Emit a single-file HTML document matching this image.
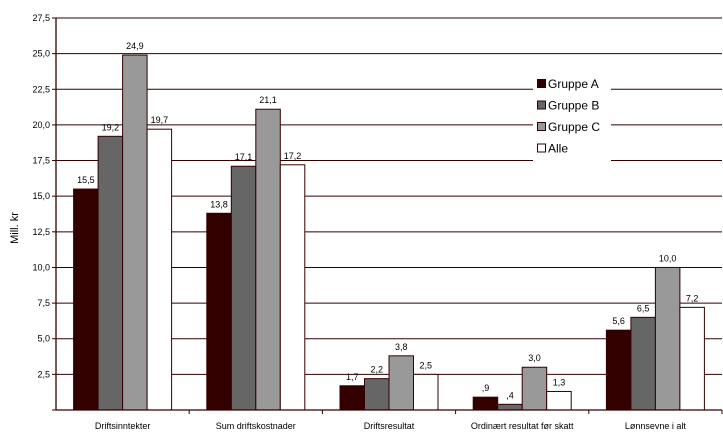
<!DOCTYPE html>
<html><head><meta charset="utf-8"><style>
body{margin:0;background:#fff}
svg{display:block;font-family:"Liberation Sans",sans-serif}
</style></head><body>
<svg id="c" width="723" height="446"></svg>
<script>
const categories=["Driftsinntekter","Sum driftskostnader","Driftsresultat","Ordinært resultat før skatt","Lønnsevne i alt"];
const seriesNames=["Gruppe A","Gruppe B","Gruppe C","Alle"];
const gruppeA=[15.5,13.8,1.7,0.9,5.6];
const gruppeB=[19.2,17.1,2.2,0.4,6.5];
const gruppeC=[24.9,21.1,3.8,3.0,10.0];
const alle=[19.7,17.2,2.5,1.3,7.2];
const yTicks=[0,2.5,5,7.5,10,12.5,15,17.5,20,22.5,25,27.5];
const series=[gruppeA,gruppeB,gruppeC,alle];
const colors=["#330000","#666666","#999999","#ffffff"];
const NS="http://www.w3.org/2000/svg";
const svg=document.getElementById('c');
const x0=56,x1=722,yTop=18,yBot=410,yMax=27.5;
const y=v=>yBot-v/yMax*(yBot-yTop);
const catW=(x1-x0)/categories.length;
const barW=24.5;
function mk(t,a,p){const e=document.createElementNS(NS,t);for(const k in a)e.setAttribute(k,a[k]);(p||svg).appendChild(e);return e;}
const fmt=v=>{let s=v.toFixed(1).replace('.',',');if(s.startsWith('0,'))s=s.slice(1);return s;};
yTicks.forEach(t=>{
  if(t>0){const g=mk('line',{x1:x0,x2:x1,y1:y(t),y2:y(t),stroke:'#330000','stroke-width':1});
  
  }
  const tk=mk('line',{x1:x0-4,x2:x0,y1:y(t),y2:y(t),stroke:'#330000'});
  
  
  if(t>0){const l=mk('text',{x:x0-6,y:y(t)+3,'text-anchor':'end','font-size':9,fill:'#000'});l.textContent=t.toFixed(1).replace('.',',');
  
  }
});
categories.forEach((c,i)=>{
  const cx=x0+catW*i;
  const tk=mk('line',{x1:cx+catW,x2:cx+catW,y1:yBot,y2:yBot+4,stroke:'#330000'});
  
  
  const start=cx+catW/2-barW*2;
  series.forEach((s,j)=>{
    const v=s[i];
    const r=mk('rect',{x:start+j*barW,y:y(v),width:barW,height:yBot-y(v),fill:colors[j],stroke:'#330000','stroke-width':1});
    
    
    const t=mk('text',{x:start+j*barW+barW/2,y:y(v)-6,'text-anchor':'middle','font-size':9});
    t.textContent=fmt(v);
    
    
  });
  const l=mk('text',{x:cx+catW/2,y:yBot+19,'text-anchor':'middle','font-size':9});
  l.textContent=c;
  
  
});
const ax=mk('line',{x1:x0,x2:x0,y1:yTop,y2:yBot,stroke:'#330000','stroke-width':1.3});


const bx=mk('line',{x1:x0,x2:x1,y1:yBot,y2:yBot,stroke:'#330000','stroke-width':1.3});


const yt=mk('text',{x:18,y:228,'text-anchor':'middle','font-size':11,transform:'rotate(-90 18 228)'});
yt.textContent='Mill. kr';


const lg=mk('g',{});


mk('rect',{x:533,y:72,width:78,height:90,fill:'#fff'},lg);
seriesNames.forEach((n,j)=>{
  const yy=84+j*21.5;
  const e=mk('g',{},lg);
  
  
  mk('rect',{x:537.5,y:yy-4.5,width:8,height:8,fill:colors[j],stroke:'#330000'},e);
  const t=mk('text',{x:548,y:yy+4,'font-size':12},e);t.textContent=n;
});
</script>
</body></html>
